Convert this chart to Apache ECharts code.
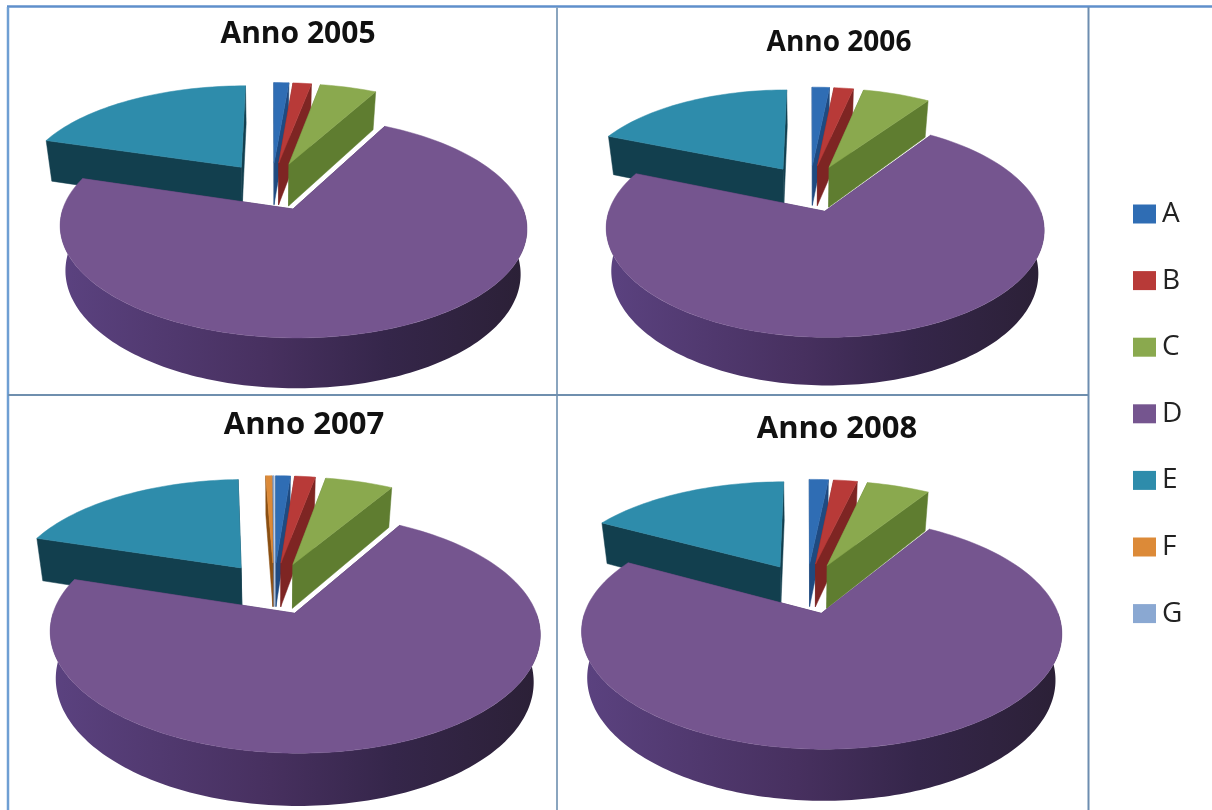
<!DOCTYPE html>
<html>
<head>
<meta charset="utf-8">
<style>html,body{margin:0;padding:0;background:#fff}#c{width:1212px;height:810px}</style>
<script src="https://cdn.jsdelivr.net/npm/echarts@6/dist/echarts.min.js"></script>
</head>
<body>
<div id="c"></div>
<script>
// ---- data (percent shares) ----
const categories = ['A', 'B', 'C', 'D', 'E', 'F', 'G'];
const years = ['Anno 2005', 'Anno 2006', 'Anno 2007', 'Anno 2008'];
const values2005 = [1.3, 1.6, 4.9, 72.0, 20.2, 0, 0];
const values2006 = [1.6, 1.8, 6.2, 71.6, 18.8, 0, 0];
const values2007 = [1.2, 1.7, 5.6, 71.4, 19.5, 0.5, 0.1];
const values2008 = [1.6, 2.0, 5.3, 74.1, 17.0, 0, 0];
const allValues = [values2005, values2006, values2007, values2008];

// ---- styling ----
const topColors  = ['#2f6db4', '#b83a38', '#8aa94e', '#75558f', '#2e8cab', '#dc8a38', '#8aa8d2'];
const wallColors = ['#1f4a80', '#7e2523', '#5f7d30', '#4e3668', '#123f4e', '#8a4f12', '#5c7aa6'];
const drawOrder = [4, 6, 5, 0, 1, 2, 3];
const panels = [
  {cx: 272, cy: 186, R: 222, S: 100, h: 43, tx: 293, ty: 29, fs: 30},
  {cx: 810, cy: 188, R: 208, S: 97.5, h: 41, tx: 834, ty: 38, fs: 28},
  {cx: 274, cy: 588, R: 233, S: 108.5, h: 45, tx: 299, ty: 420, fs: 31},
  {cx: 807, cy: 588, R: 228, S: 105, h: 44, tx: 832, ty: 424, fs: 31}
];
const K = 0.16, KZ = 0.12, CONVERGE = 0.025, EXPLODE = 0.24;

function project(p, u, v, z) {
  const w = 1 - K * v;
  return [p.cx + p.R * u * (1 - CONVERGE * z) / w,
          p.cy + p.S * v / w + p.h * z / (1 - KZ * v)];
}
// angle a is in radians clockwise from the top of the disc
function makeRender(panelIdx, catIdx) {
  return function (params, api) {
    const start = api.value(0), end = api.value(1);
    if (end <= start) return {type: 'group', children: []};
    const p = panels[panelIdx];
    const a0 = start / 100 * 2 * Math.PI, a1 = end / 100 * 2 * Math.PI, mid = (a0 + a1) / 2;
    const ou = EXPLODE * Math.sin(mid), ov = -EXPLODE * Math.cos(mid);
    const steps = Math.max(2, Math.ceil((a1 - a0) / 0.03));
    const rim = (a, z) => project(p, ou + Math.sin(a), ov - Math.cos(a), z);
    const apex = z => project(p, ou, ov, z);
    const kids = [];
    const poly = (pts, fill) => kids.push({type: 'polygon', shape: {points: pts},
      style: {fill: fill, stroke: typeof fill === 'string' ? fill : null, lineWidth: 0.5}});
    // radial walls
    poly([apex(0), rim(a0, 0), rim(a0, 1), apex(1)], wallColors[catIdx]);
    poly([apex(0), rim(a1, 0), rim(a1, 1), apex(1)], wallColors[catIdx]);
    // outer wall on the near half of the rim
    const nearStart = Math.max(a0, Math.PI / 2), nearEnd = Math.min(a1, 3 * Math.PI / 2);
    if (nearEnd > nearStart) {
      const up = [], low = [];
      for (let i = 0; i <= steps; i++) {
        const b = nearStart + (nearEnd - nearStart) * i / steps;
        up.push(rim(b, 0));
        low.unshift(rim(b, 1));
      }
      const fill = catIdx === 3
        ? new echarts.graphic.LinearGradient(0, 0, 1, 0, [
            {offset: 0, color: '#5b4280'}, {offset: 0.45, color: '#47305f'},
            {offset: 0.7, color: '#35264a'}, {offset: 1, color: '#2b2036'}])
        : wallColors[catIdx];
      kids.push({type: 'polygon', shape: {points: up.concat(low)}, style: {fill: fill}});
    }
    // top face
    const top = [apex(0)];
    for (let i = 0; i <= steps; i++) top.push(rim(a0 + (a1 - a0) * i / steps, 0));
    poly(top, topColors[catIdx]);
    return {type: 'group', children: kids};
  };
}

const series = [];
allValues.forEach((vals, pi) => {
  const total = vals.reduce((s, x) => s + x, 0);
  const cum = [];
  let run = 0;
  vals.forEach(x => { cum.push(run / total * 100); run += x; });
  drawOrder.forEach((ci, order) => {
    series.push({
      type: 'custom',
      name: categories[ci],
      coordinateSystem: 'none',
      silent: true,
      animation: false,
      z: 2 + order,
      itemStyle: {color: topColors[ci]},
      encode: {value: [0, 1]},
      data: [[cum[ci], cum[ci] + vals[ci] / total * 100]],
      renderItem: makeRender(pi, ci)
    });
  });
});

const line = (x1, y1, x2, y2, stroke, lineWidth) => ({type: 'line', z: 1, silent: true,
  shape: {x1, y1, x2, y2}, style: {stroke, lineWidth}});

const option = {
  backgroundColor: '#ffffff',
  animation: false,
  title: years.map((t, i) => ({
    text: t, left: panels[i].tx, top: panels[i].ty, textAlign: 'center', textVerticalAlign: 'middle',
    textStyle: {fontFamily: 'Open Sans', fontWeight: 'bold', fontSize: panels[i].fs, color: '#111'}
  })),
  legend: {
    orient: 'vertical', left: 1128, top: 195,
    itemWidth: 23, itemHeight: 19, itemGap: 38.6,
    icon: 'rect',
    selectedMode: false,
    textStyle: {fontFamily: 'Open Sans', fontSize: 28, color: '#222', padding: [0, 0, 0, 1], height: 27, lineHeight: 27},
    data: categories.map((c, i) => ({name: c, itemStyle: {color: topColors[i]}}))
  },
  graphic: [
    line(7, 6.5, 1212, 6.5, '#5f8fcb', 2.5),
    line(8, 7, 8, 810, '#6f9fd3', 2.5),
    line(557, 7, 557, 810, '#8aa5bf', 2),
    line(1088.5, 7, 1088.5, 810, '#6d8db0', 2),
    line(8, 395, 1088, 395, '#6f8fae', 2)
  ],
  series: series
};
const chart = echarts.init(document.getElementById('c'), null, {renderer: 'canvas', width: 1212, height: 810});
chart.setOption(option);
</script>
</body>
</html>
